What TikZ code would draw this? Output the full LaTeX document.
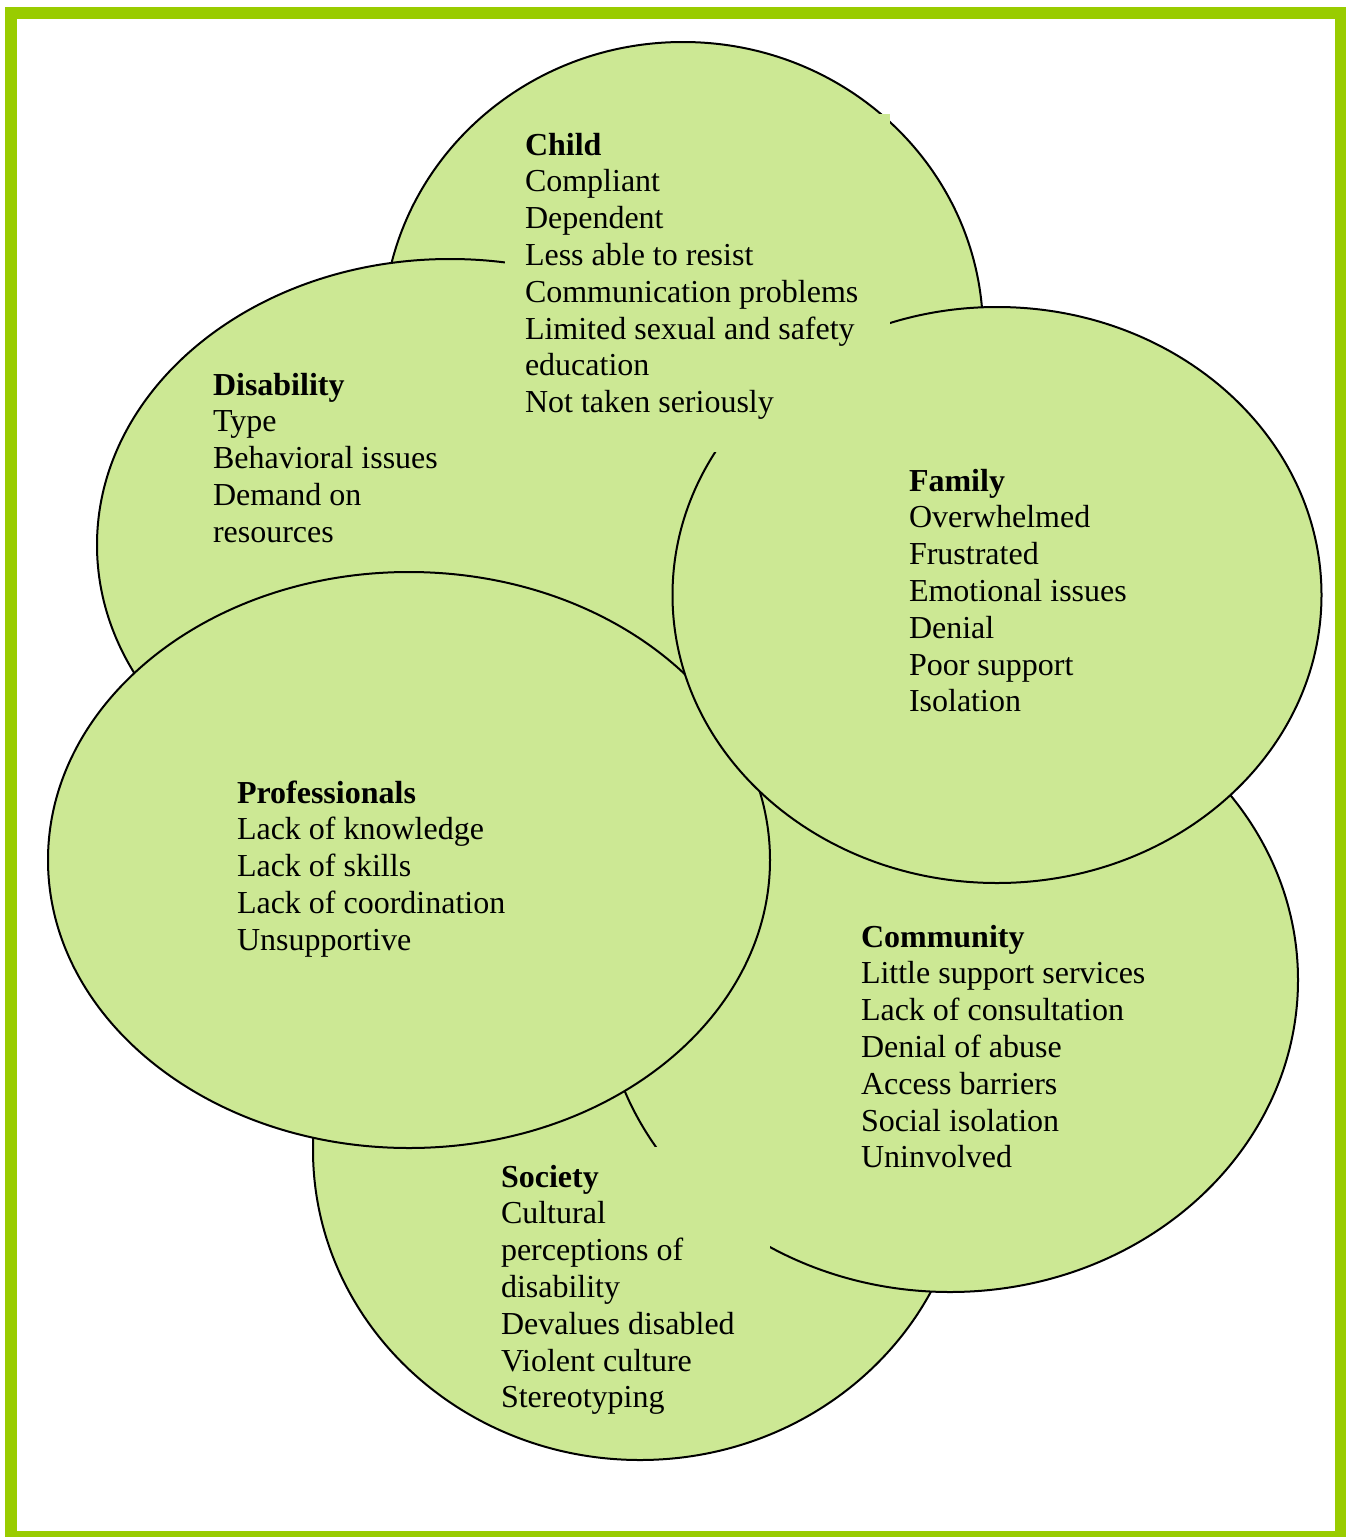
\documentclass[tikz,border=0pt]{standalone}
\usepackage{fontspec}
\setmainfont{Liberation Serif}
\usetikzlibrary{shapes.geometric}
\definecolor{framegreen}{RGB}{153,204,0}
\definecolor{bubblefill}{RGB}{204,232,148}
\begin{document}
\begin{tikzpicture}[x=1pt,y=-1pt,
  bubble/.style={ellipse, draw=black, line width=2pt, fill=bubblefill, inner sep=0pt, outer sep=0pt},
  textpatch/.style={fill=bubblefill},
  txt/.style={anchor=base west, inner sep=0pt, outer sep=0pt, font=\fontsize{32}{36.8}\selectfont}]
\useasboundingbox (0,0) rectangle (1346,1537);
% ellipses, bottom to top
\node[bubble, minimum width=600pt, minimum height=580pt] (child) at (683,332) {};
\node[bubble, minimum width=706pt, minimum height=572pt] (disab) at (450,545) {};
\node[bubble, minimum width=654pt, minimum height=620pt] (society) at (640,1150) {};
\node[bubble, minimum width=696pt, minimum height=624pt] (community) at (950,980) {};
\node[bubble, minimum width=722pt, minimum height=576pt] (prof) at (409,860) {};
\node[bubble, minimum width=649pt, minimum height=576pt] (family) at (997,595) {};
% text box backgrounds that hide outline pieces
\fill[textpatch] (505,114) rectangle (890,452);
\fill[textpatch] (490,1147) rectangle (770,1420);
% texts
\node[txt] (childtxt) at (525,155) {\parbox[t]{450pt}{\raggedright\textbf{Child}\\Compliant\\Dependent\\Less able to resist\\Communication problems\\Limited sexual and safety\\education\\Not taken seriously}};
\node[txt] (disabtxt) at (213,395) {\parbox[t]{300pt}{\raggedright\textbf{Disability}\\Type\\Behavioral issues\\Demand on\\resources}};
\node[txt] (familytxt) at (909,491) {\parbox[t]{300pt}{\raggedright\textbf{Family}\\Overwhelmed\\Frustrated\\Emotional issues\\Denial\\Poor support\\Isolation}};
\node[txt] (proftxt) at (237,803) {\parbox[t]{320pt}{\raggedright\textbf{Professionals}\\Lack of knowledge\\Lack of skills\\Lack of coordination\\Unsupportive}};
\node[txt] (communitytxt) at (861,947) {\parbox[t]{320pt}{\raggedright\textbf{Community}\\Little support services\\Lack of consultation\\Denial of abuse\\Access barriers\\Social isolation\\Uninvolved}};
\node[txt] (societytxt) at (501,1187) {\parbox[t]{300pt}{\raggedright\textbf{Society}\\Cultural\\perceptions of\\disability\\Devalues disabled\\Violent culture\\Stereotyping}};
% frame
\draw[framegreen, line width=12pt] (11,13) rectangle (1341,1537);
\end{tikzpicture}
\end{document}
